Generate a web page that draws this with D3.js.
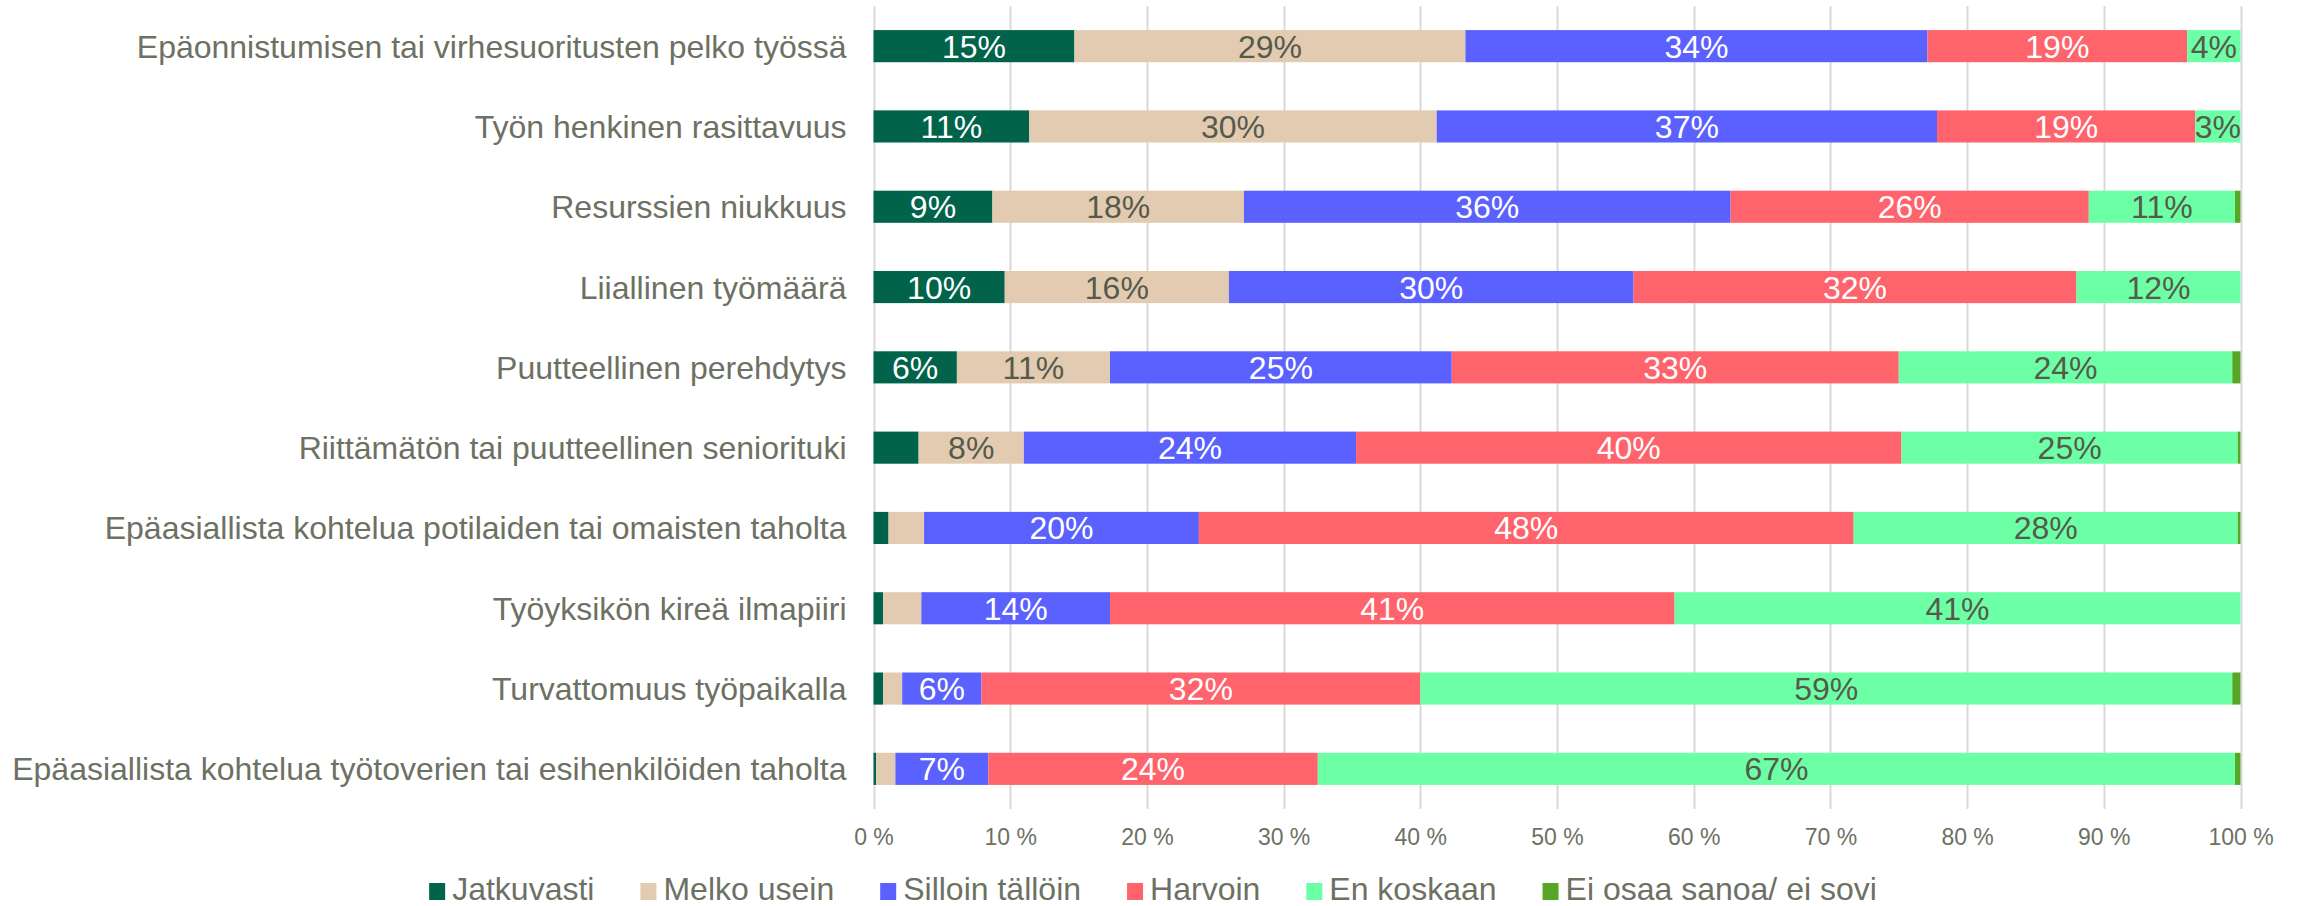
<!DOCTYPE html>
<html>
<head>
<meta charset="utf-8">
<script src="https://cdn.jsdelivr.net/npm/d3@7"></script>
<style>
    body { margin: 0; background: #fff; }
    svg { display: block; font-family: "Liberation Sans", Arial, sans-serif; }
</style>
</head>
<body>
<svg id="chart" width="2305" height="906"></svg>
<script>
const categories = [
    "Epäonnistumisen tai virhesuoritusten pelko työssä",
    "Työn henkinen rasittavuus",
    "Resurssien niukkuus",
    "Liiallinen työmäärä",
    "Puutteellinen perehdytys",
    "Riittämätön tai puutteellinen seniorituki",
    "Epäasiallista kohtelua potilaiden tai omaisten taholta",
    "Työyksikön kireä ilmapiiri",
    "Turvattomuus työpaikalla",
    "Epäasiallista kohtelua työtoverien tai esihenkilöiden taholta"
];
const seriesNames = ["Jatkuvasti", "Melko usein", "Silloin tällöin", "Harvoin", "En koskaan", "Ei osaa sanoa/ ei sovi"];
const seriesColors = ["#00634a", "#e2cbb0", "#5b61ff", "#ff636b", "#6dffa6", "#58a626"];
// label text colour per series
const labelColors = ["#ffffff", "#555a4c", "#ffffff", "#ffffff", "#555a4c", "#555a4c"];

// percentages per series, same order as categories
const jatkuvasti     = [14.7, 11.4,  8.7,  9.6,  6.1,  3.3,  1.1,  0.7,  0.7,  0.2];
const melkoUsein     = [28.6, 29.8, 18.4, 16.4, 11.2,  7.7,  2.6,  2.8,  1.4,  1.4];
const silloinTalloin = [33.8, 36.6, 35.6, 29.6, 25.0, 24.3, 20.1, 13.8,  5.8,  6.8];
const harvoin        = [19.0, 18.9, 26.2, 32.4, 32.7, 39.9, 47.9, 41.3, 32.1, 24.1];
const enKoskaan      = [ 3.9,  3.3, 10.7, 12.0, 24.4, 24.6, 28.1, 41.4, 59.4, 67.1];
const eiOsaa         = [ 0.0,  0.0,  0.4,  0.0,  0.6,  0.2,  0.2,  0.0,  0.6,  0.4];

const xTicks = [0, 10, 20, 30, 40, 50, 60, 70, 80, 90, 100];

const allSeries = [jatkuvasti, melkoUsein, silloinTalloin, harvoin, enKoskaan, eiOsaa];
const rows = categories.map((c, i) => {
    const r = { cat: c };
    seriesNames.forEach((s, j) => { r[s] = allSeries[j][i]; });
    return r;
});
const stacked = d3.stack().keys(seriesNames)(rows);

const svg = d3.select("#chart");
const margin = { left: 873.5, right: 64.5, top: 6, bottom: 97 };
const W = 2305, H = 906;

const xScale = d3.scaleLinear().domain([0, 100]).range([margin.left, W - margin.right]);
const yScale = d3.scaleBand().domain(categories)
    .range([margin.top, H - margin.bottom])
    .paddingInner(0.6)
    .paddingOuter(0.3);

// gridlines
svg.append("g").attr("class", "grid")
    .selectAll("line").data(xTicks).enter().append("line")
    .attr("x1", d => Math.round(xScale(d)) + 0.5)
    .attr("x2", d => Math.round(xScale(d)) + 0.5)
    .attr("y1", margin.top)
    .attr("y2", H - margin.bottom)
    .attr("stroke", "#d9d9d9")
    .attr("stroke-width", 2);

// bars
const layers = svg.append("g").attr("class", "bars")
    .selectAll("g").data(stacked).enter().append("g")
    .attr("fill", (d, i) => seriesColors[i]);
layers.selectAll("rect").data(d => d).enter().append("rect")
    .attr("x", d => xScale(d[0]))
    .attr("y", d => yScale(d.data.cat))
    .attr("width", d => xScale(d[1]) - xScale(d[0]))
    .attr("height", yScale.bandwidth());

// data labels
const fmt = v => Math.round(v) + "%";
const labels = svg.append("g").attr("class", "labels")
    .selectAll("g").data(stacked).enter().append("g")
    .attr("fill", (d, i) => labelColors[i]);
labels.selectAll("text")
    .data(d => d.filter(p => (p[1] - p[0]) >= 5 || (d.key === "En koskaan" && p[1] - p[0] >= 3)))
    .enter().append("text")
    .attr("x", d => (xScale(d[0]) + xScale(d[1])) / 2)
    .attr("y", d => yScale(d.data.cat) + yScale.bandwidth() / 2)
    .attr("dy", "0.36em")
    .attr("text-anchor", "middle")
    .attr("font-size", 32)
    .text(d => fmt(d[1] - d[0]));

// category axis
const yAxis = d3.axisLeft(yScale).tickSizeInner(0).tickSizeOuter(0).tickPadding(27);
svg.append("g").attr("class", "cat-axis")
    .attr("transform", `translate(${margin.left}, 0)`)
    .call(yAxis)
    .call(g => g.select(".domain").remove())
    .call(g => g.selectAll("text")
        .attr("font-size", 32)
        .attr("font-family", "Liberation Sans, Arial, sans-serif")
        .attr("fill", "#6d7163")
        .attr("dy", "0.36em"));

// value axis
const xAxis = d3.axisBottom(xScale).tickValues(xTicks)
    .tickFormat(d => d + " %").tickSize(0).tickPadding(20);
svg.append("g").attr("class", "x-axis")
    .attr("transform", `translate(0, ${H - margin.bottom})`)
    .call(xAxis)
    .call(g => g.select(".domain").remove())
    .call(g => g.selectAll("text")
        .attr("font-size", 23)
        .attr("font-family", "Liberation Sans, Arial, sans-serif")
        .attr("fill", "#6d7163"));

// legend
const legend = svg.append("g").attr("class", "legend");
const items = legend.selectAll("g").data(seriesNames).enter().append("g");
items.append("rect")
    .attr("width", 16).attr("height", 17)
    .attr("y", -17)
    .attr("fill", (d, i) => seriesColors[i]);
items.append("text")
    .attr("x", 23)
    .attr("font-size", 32)
    .attr("fill", "#6d7163")
    .text(d => d);
let offset = 0;
const widths = [];
items.each(function() {
    widths.push(23 + d3.select(this).select("text").node().getComputedTextLength());
});
items.attr("transform", (d, i) => {
    const t = `translate(${offset}, 0)`;
    offset += widths[i] + 46;
    return t;
});
const legendWidth = offset - 46;
legend.attr("transform", `translate(${1153 - legendWidth / 2}, 900)`);
</script>
</body>
</html>
